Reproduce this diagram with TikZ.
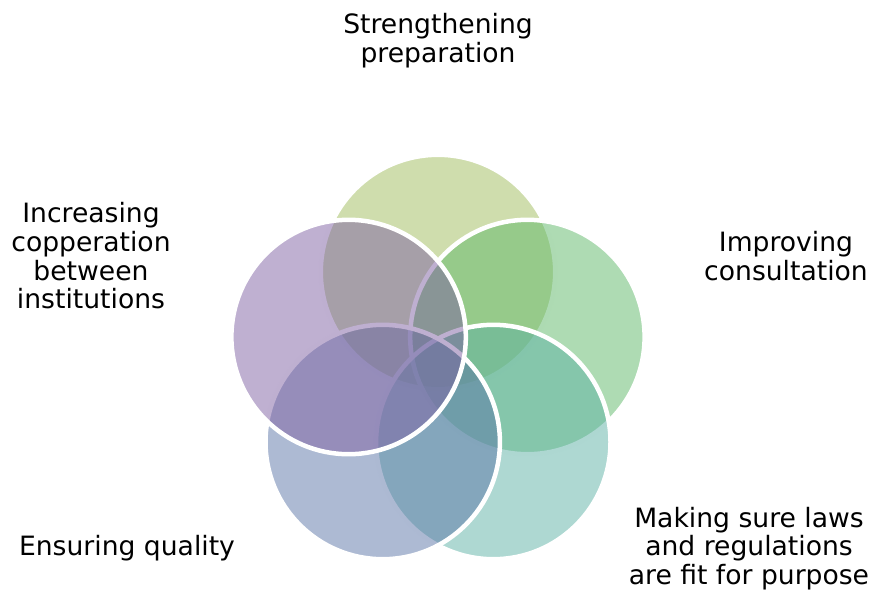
\documentclass[tikz,border=0pt]{standalone}
\usepackage{fontspec}
\setmainfont{DejaVu Sans}
\definecolor{cA}{RGB}{159,187,91}
\definecolor{cB}{RGB}{93,183,103}
\definecolor{cC}{RGB}{93,177,165}
\definecolor{cD}{RGB}{91,117,167}
\definecolor{cE}{RGB}{127,97,163}
\begin{document}
\begin{tikzpicture}[x=1pt,y=-1pt,
  ring/.style={draw=white,line width=4.5pt,fill opacity=0.5,draw opacity=1},
  lbl/.style={align=center,font=\fontsize{26.6}{28.7}\selectfont,text=black,inner sep=0pt}]
\useasboundingbox (0,0) rectangle (872,590);
\def\rr{117.2}
\path[ring,fill=cA] (438,272) circle[radius=\rr];
\path[ring,fill=cB] (527.4,337) circle[radius=\rr];
\path[ring,fill=cC] (493.3,442) circle[radius=\rr];
\path[ring,fill=cD] (382.7,442) circle[radius=\rr];
\path[ring,fill=cE] (348.6,337) circle[radius=\rr];
\node[lbl] (t1) at (438,41) {Strengthening\\preparation};
\node[lbl] (t2) at (786,256) {Improving\\consultation};
\node[lbl] (t3) at (749,548.5) {Making sure laws\\and regulations\\are fit for purpose};
\node[lbl] (t4) at (127,548) {Ensuring quality};
\node[lbl] (t5) at (91,256) {Increasing\\copperation\\between\\institutions};
\end{tikzpicture}
\end{document}
